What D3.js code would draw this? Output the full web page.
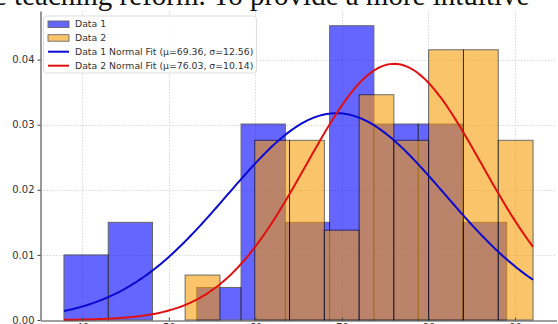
<!DOCTYPE html>
<html>
<head>
<meta charset="utf-8">
<script src="https://cdn.jsdelivr.net/npm/d3@7"></script>
<style>
  html, body { margin: 0; padding: 0; background: #fff; }
  svg { display: block; }
</style>
</head>
<body>
<script>
// Histogram bins (edges) and densities for the two score samples
const data1Edges = [37.89, 43.005, 48.12, 53.235, 58.35, 63.465, 68.58, 73.695, 78.81, 83.925, 89.04];
const data1Density = [0.0100, 0.0150, 0, 0.0050, 0.0301, 0.0150, 0.0452, 0.0301, 0.0301, 0.0150];
const data2Edges = [51.89, 55.91, 59.93, 63.95, 67.97, 71.99, 76.00, 80.02, 84.04, 88.06, 92.08];
const data2Density = [0.0069, 0, 0.0276, 0.0276, 0.0138, 0.0346, 0.0276, 0.0415, 0.0415, 0.0276];

// Normal fits
const fit1 = { mu: 69.36, sigma: 12.56 };
const fit2 = { mu: 76.03, sigma: 10.14 };

// Axis ticks
const xTicks = [40, 50, 60, 70, 80, 90];
const yTicks = [0, 0.01, 0.02, 0.03, 0.04];

const legendLabels = [
  "Data 1",
  "Data 2",
  "Data 1 Normal Fit (\u03bc=69.36, \u03c3=12.56)",
  "Data 2 Normal Fit (\u03bc=76.03, \u03c3=10.14)"
];
const captionText = "e teaching reform. To provide a more intuitive";

const W = 558, H = 324;
const plot = { left: 40.5, right: 556.5, top: 11, bottom: 320 };

const colors = {
  d1: "#0000ff", d2: "#f89a00",
  fit1: "#0a0ad0", fit2: "#e01010",
  text: "#333", grid: "#cfcfcf", spine: "#444"
};

const svg = d3.select("body").append("svg")
  .attr("width", W).attr("height", H);

// x limits with a 5% margin around the sample range
const xMin = d3.min([data1Edges[0], data2Edges[0]]);
const xMax = d3.max([data1Edges[data1Edges.length - 1], data2Edges[data2Edges.length - 1]]);
const xPad = (xMax - xMin) * 0.05;
const x = d3.scaleLinear().domain([xMin - xPad, xMax + xPad]).range([plot.left, plot.right]);

const yMax = d3.max(data1Density.concat(data2Density)) * 1.05;
const y = d3.scaleLinear().domain([0, yMax]).range([plot.bottom, plot.top]);

// grid
const grid = svg.append("g").attr("class", "grid")
  .attr("stroke", colors.grid).attr("stroke-width", 0.8)
  .attr("stroke-dasharray", "1.5,1.5");
grid.selectAll("line.gx").data(xTicks).join("line")
  .attr("x1", d => Math.round(x(d)) + 0.5).attr("x2", d => Math.round(x(d)) + 0.5)
  .attr("y1", plot.top).attr("y2", plot.bottom);
grid.selectAll("line.gy").data(yTicks.slice(1)).join("line")
  .attr("x1", plot.left).attr("x2", plot.right)
  .attr("y1", d => Math.round(y(d)) + 0.5).attr("y2", d => Math.round(y(d)) + 0.5);

// histogram bars
function bins(edges, dens) {
  return dens.map((v, i) => ({ x0: edges[i], x1: edges[i + 1], v }));
}
function drawHist(data, fill, op) {
  svg.append("g").selectAll("rect").data(data.filter(d => d.v > 0)).join("rect")
    .attr("x", d => x(d.x0))
    .attr("width", d => x(d.x1) - x(d.x0))
    .attr("y", d => y(d.v))
    .attr("height", d => y(0) - y(d.v))
    .attr("fill", fill)
    .attr("stroke", "#000")
    .attr("stroke-width", 1)
    .attr("opacity", op);
}
drawHist(bins(data1Edges, data1Density), colors.d1, 0.6);
drawHist(bins(data2Edges, data2Density), colors.d2, 0.58);

// normal fit curves
function pdf(v, mu, s) {
  return Math.exp(-0.5 * ((v - mu) / s) ** 2) / (s * Math.sqrt(2 * Math.PI));
}
const xs = d3.range(0, 201).map(i => xMin + (xMax - xMin) * i / 200);
const line = d3.line().x(d => x(d[0])).y(d => y(d[1])).curve(d3.curveLinear);
[[fit1, colors.fit1], [fit2, colors.fit2]].forEach(([f, c]) => {
  svg.append("path")
    .datum(xs.map(v => [v, pdf(v, f.mu, f.sigma)]))
    .attr("d", line)
    .attr("fill", "none")
    .attr("stroke", c)
    .attr("stroke-width", 2);
});

// axes
const xAxis = d3.axisBottom(x).tickValues(xTicks).tickSize(-3).tickSizeOuter(0).tickPadding(3);
const yAxis = d3.axisLeft(y).tickValues(yTicks).tickSize(3).tickSizeOuter(0).tickPadding(3)
  .tickFormat(d3.format(".2f"));

const gx = svg.append("g").attr("transform", `translate(0,${plot.bottom + 0.5})`).call(xAxis);
const gy = svg.append("g").attr("transform", `translate(${plot.left},0)`).call(yAxis);
[gx, gy].forEach(g => {
  g.selectAll("text").attr("font-family", "DejaVu Sans, sans-serif").attr("font-size", 10).attr("fill", colors.text);
  g.selectAll("line").attr("stroke", colors.spine);
  g.select(".domain").attr("stroke", colors.spine).attr("stroke-width", 1.1);
});

// legend
const lg = svg.append("g").attr("transform", "translate(43.5,16)");
lg.append("rect")
  .attr("width", 213).attr("height", 57).attr("rx", 3)
  .attr("fill", "#fff").attr("fill-opacity", 0.85)
  .attr("stroke", "#d6d6d6").attr("stroke-width", 0.8);
const rowY = [8, 21.7, 35.7, 49.7];
legendLabels.forEach((t, i) => {
  const cy = rowY[i];
  if (i < 2) {
    lg.append("rect")
      .attr("x", 4.5).attr("y", cy - 3).attr("width", 21).attr("height", 6.5)
      .attr("fill", i === 0 ? colors.d1 : colors.d2)
      .attr("stroke", "#000").attr("stroke-width", 0.9).attr("opacity", i === 0 ? 0.6 : 0.58);
  } else {
    lg.append("line")
      .attr("x1", 4.5).attr("x2", 25.5).attr("y1", cy).attr("y2", cy)
      .attr("stroke", i === 2 ? colors.fit1 : colors.fit2).attr("stroke-width", 2);
  }
  lg.append("text")
    .attr("x", 31.5).attr("y", cy).attr("dy", "0.35em")
    .attr("font-family", "DejaVu Sans, sans-serif").attr("font-size", 9.3)
    .attr("fill", colors.text).text(t);
});

// running text above the figure
svg.append("text")
  .attr("x", -6).attr("y", 5)
  .attr("font-family", "Liberation Serif, Times New Roman, serif")
  .attr("font-size", 29).attr("fill", "#111")
  .text(captionText);
</script>
</body>
</html>
